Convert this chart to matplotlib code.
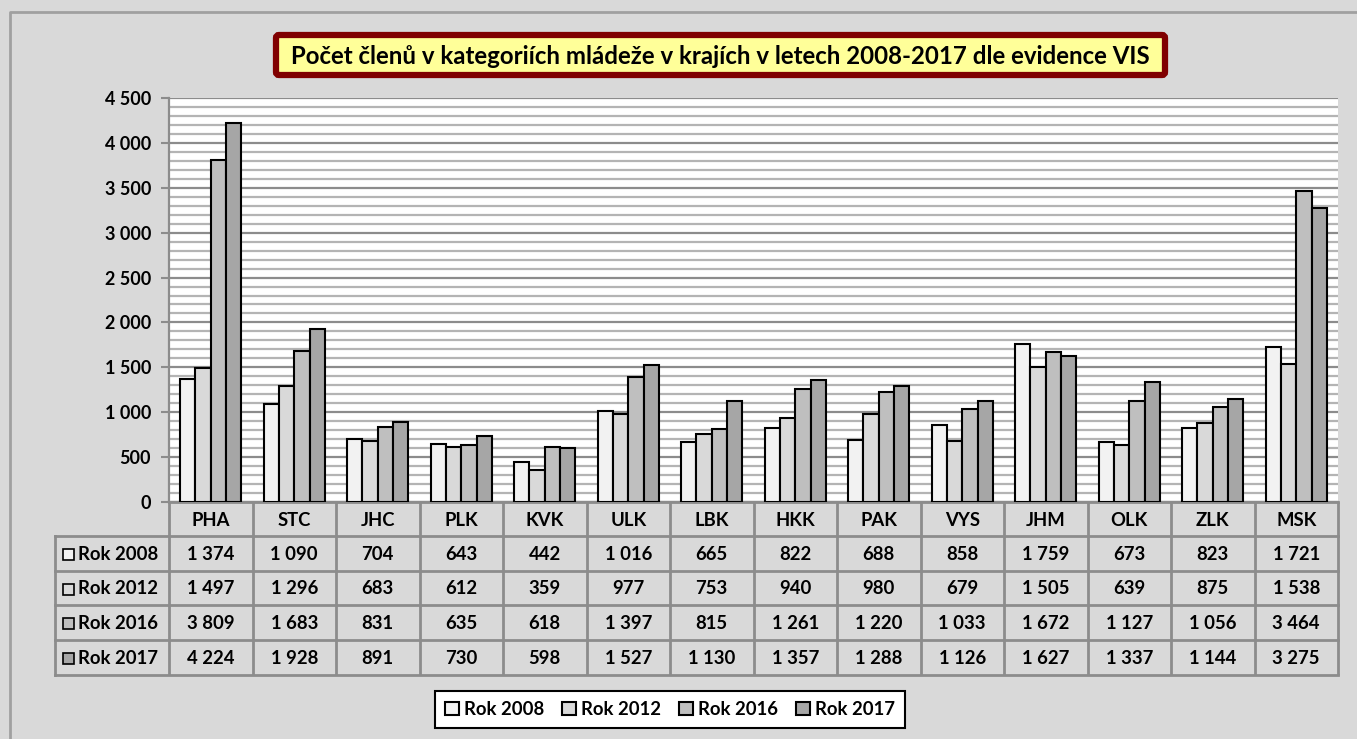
import matplotlib
matplotlib.use("Agg")
import matplotlib.pyplot as plt
from matplotlib.patches import Rectangle, FancyBboxPatch
from matplotlib.ticker import MultipleLocator, FuncFormatter
import numpy as np

plt.rcParams['font.family'] = ['Lato', 'DejaVu Sans']
plt.rcParams['font.weight'] = 'bold'

regions = ["PHA", "STC", "JHC", "PLK", "KVK", "ULK", "LBK", "HKK", "PAK", "VYS", "JHM", "OLK", "ZLK", "MSK"]
series_names = ["Rok 2008", "Rok 2012", "Rok 2016", "Rok 2017"]
rok2008 = [1374, 1090, 704, 643, 442, 1016, 665, 822, 688, 858, 1759, 673, 823, 1721]
rok2012 = [1497, 1296, 683, 612, 359, 977, 753, 940, 980, 679, 1505, 639, 875, 1538]
rok2016 = [3809, 1683, 831, 635, 618, 1397, 815, 1261, 1220, 1033, 1672, 1127, 1056, 3464]
rok2017 = [4224, 1928, 891, 730, 598, 1527, 1130, 1357, 1288, 1126, 1627, 1337, 1144, 3275]
series = [rok2008, rok2012, rok2016, rok2017]
colors = ["#F2F2F2", "#D9D9D9", "#BFBFBF", "#A6A6A6"]
title = "Počet členů v kategoriích mládeže v krajích v letech 2008-2017 dle evidence VIS"

def fmt(v):
    return f"{int(v):,}".replace(",", " ")

FS = 13.3
W, H = 1357, 739
fig = plt.figure(figsize=(W / 100, H / 100), dpi=100)
fig.patch.set_facecolor("#D9D9D9")

# overlay in pixel coordinates
ov = fig.add_axes([0, 0, 1, 1], zorder=0)
ov.set_xlim(0, W)
ov.set_ylim(H, 0)
ov.axis("off")

# outer frame
ov.plot([10, 10, W + 5], [H + 5, 12, 12], color="#A0A0A0", lw=2)

# plot area
L, R, T, B = 169, 1338, 98, 502
ax = fig.add_axes([L / W, 1 - B / H, (R - L) / W, (B - T) / H], zorder=2)
ax.set_facecolor("white")
n = len(regions)
x = np.arange(n)
bw = 0.183
for i, (vals, c, name) in enumerate(zip(series, colors, series_names)):
    ax.bar(x + (i - 1.5) * bw, vals, width=bw, color=c, edgecolor="black",
           linewidth=1.5, label=name, zorder=3)
ax.set_xlim(-0.5, n - 0.5)
ax.set_ylim(0, 4500)
ax.yaxis.set_major_locator(MultipleLocator(500))
ax.yaxis.set_minor_locator(MultipleLocator(100))
ax.yaxis.set_major_formatter(FuncFormatter(lambda v, p: fmt(v)))
ax.grid(which="minor", axis="y", color="#B4B4B4", lw=1.6, zorder=1)
ax.grid(which="major", axis="y", color="#8C8C8C", lw=1.6, zorder=1)
ax.set_xticks([])
ax.tick_params(axis="y", which="major", length=6, width=1.5, color="#8C8C8C",
               labelsize=13, pad=7)
ax.tick_params(axis="y", which="minor", length=0)
for lab in ax.get_yticklabels():
    lab.set_fontweight("bold")
for s in ["top", "right"]:
    ax.spines[s].set_visible(False)
ax.spines["left"].set_color("#8C8C8C")
ax.spines["left"].set_linewidth(1.6)
ax.spines["bottom"].set_color("#8C8C8C")
ax.spines["bottom"].set_linewidth(1.6)

# data table
cw = (R - L) / n
row_edges = [502, 536, 571, 605, 640, 675]
tl = 55
gc = "#8C8C8C"
glw = 2
for k in range(n + 1):
    xx = L + k * cw
    ov.plot([xx, xx], [row_edges[0], row_edges[-1]], color=gc, lw=glw, solid_capstyle="butt")
ov.plot([tl, tl], [row_edges[1], row_edges[-1]], color=gc, lw=glw)
for j, yy in enumerate(row_edges):
    x0 = L if j == 0 else tl
    ov.plot([x0, R], [yy, yy], color=gc, lw=glw)
for k, reg in enumerate(regions):
    ov.text(L + (k + 0.5) * cw, (row_edges[0] + row_edges[1]) / 2 + 1, reg,
            ha="center", va="center", fontsize=FS, fontweight="bold")
for j, (vals, c, name) in enumerate(zip(series, colors, series_names)):
    yc = (row_edges[j + 1] + row_edges[j + 2]) / 2 + 1
    ov.add_patch(Rectangle((63, yc - 5.5), 11, 11, facecolor=c, edgecolor="black", lw=1.2))
    ov.text(78, yc, name, ha="left", va="center", fontsize=FS, fontweight="bold")
    for k, v in enumerate(vals):
        ov.text(L + (k + 0.5) * cw, yc, fmt(v), ha="center", va="center",
                fontsize=FS, fontweight="bold")

# title box
tb = FancyBboxPatch((276, 35), 1165 - 276, 75 - 35, boxstyle="round,pad=0,rounding_size=3",
                    facecolor="#FFFF99", edgecolor="#800000", lw=4.5)
ov.add_patch(tb)
ov.text((276 + 1165) / 2, 56, title, ha="center", va="center", fontsize=17.3,
        fontweight="bold", color="black")

# legend
leg = ax.legend(loc="center", bbox_to_anchor=((433 + 907) / 2 / W, 1 - 709.5 / H),
                bbox_transform=fig.transFigure, ncol=4, frameon=True, fancybox=False,
                edgecolor="black", framealpha=1, prop={"size": FS, "weight": "bold"},
                handlelength=0.75, handleheight=0.75, handletextpad=0.25, columnspacing=1.0,
                borderpad=0.55)
leg.get_frame().set_linewidth(1.5)

fig.savefig("out.png", dpi=100, facecolor=fig.get_facecolor())
